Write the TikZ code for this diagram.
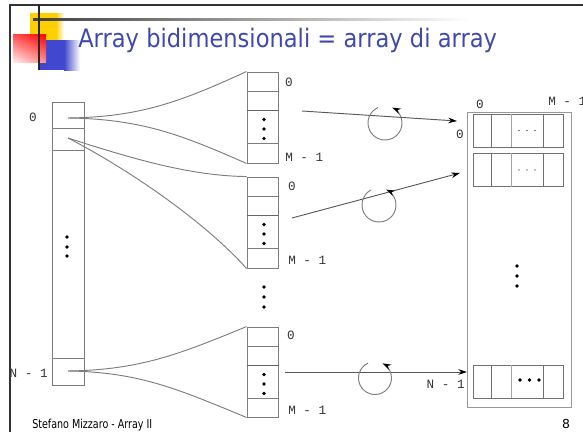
\documentclass[tikz,border=0pt]{standalone}
\usepackage{fontspec}
\usepackage{graphicx}
\newfontfamily\slidefont{DejaVu Sans}
\setmonofont{Liberation Mono}
\usetikzlibrary{arrows.meta,positioning,calc,shadings}

\definecolor{titleblue}{RGB}{64,72,176}
\definecolor{linegray}{RGB}{125,125,125}
\definecolor{logogold}{RGB}{255,208,0}
\definecolor{logoblue}{RGB}{64,72,208}

\tikzset{
  colbox/.style={draw=linegray, line width=0.7pt, minimum width=23.25pt, minimum height=68.25pt, inner sep=0pt},
  rowbox/.style={draw=linegray!90!black, line width=0.7pt, minimum width=67.5pt, minimum height=24.75pt, inner sep=0pt},
  idx/.style={font=\ttfamily\fontsize{9.5}{10}\selectfont, text=black!80, inner sep=0pt},
  fan/.style={linegray, line width=0.7pt},
  ptr/.style={-{Stealth[length=6.5pt, width=4.2pt, color=black]}, black!65, line width=0.7pt},
  rotarr/.style={-{Stealth[length=6.5pt, width=4.2pt, color=black]}, linegray, line width=0.7pt}
}

\begin{document}
\begin{tikzpicture}[x=0.75pt, y=0.75pt]
  \useasboundingbox (0,0) rectangle (583,-432);

  % slide frame and logo
  \draw[black!80, line width=1pt] (10,-432) -- (10,-5) -- (583,-5);
  \fill[logogold] (30,-13) rectangle (56,-40);
  \shade[left color=logogold, right color=white] (56,-13) rectangle (64,-40);
  \fill[logoblue] (38,-40) rectangle (64,-70);
  \shade[left color=logoblue, right color=white] (64,-40) rectangle (80,-70);
  \shade[upper right=red, upper left=red!70, lower right=red!45, lower left=red!8] (13,-34) rectangle (46,-62);
  \shade[left color=black!75, right color=white] (33,-18) rectangle (470,-20.5);
  \draw[black!85, line width=1.2pt] (39,-5) -- (39,-70);

  \node[anchor=base west, inner sep=0pt, text=titleblue] (title) at (78,-47)
    {\resizebox{314pt}{14.5pt}{\slidefont Array bidimensionali = array di array}};
  \node[anchor=base west, inner sep=0pt] (footer) at (32,-428)
    {\resizebox{90pt}{7pt}{\slidefont Stefano Mizzaro - Array II}};
  \node[anchor=base, inner sep=0pt, font=\slidefont\fontsize{9.3}{10}\selectfont] (page) at (566,-428) {8};

  % array of N pointers
  \node[colbox, minimum height=212.25pt, minimum width=24pt] (L) at (68,-243.5) {};
  \draw[linegray, line width=0.7pt] (52,-128) -- (84,-128);
  \draw[linegray, line width=0.7pt] (52,-150) -- (84,-150);
  \draw[linegray, line width=0.7pt] (52,-358) -- (84,-358);
  \coordinate (L0) at (68,-118);
  \coordinate (L1) at (68,-138);
  \coordinate (LN) at (68,-371);
  \node[idx] (l0) at (33,-117) {0};
  \node[idx, anchor=east] (lN) at (48,-373) {N - 1};
  \fill (67,-237) circle[radius=1.9];
  \fill (67,-247) circle[radius=1.9];
  \fill (67,-256) circle[radius=1.9];

  % the rows, M elements each
  \node[colbox] (A1) at (262.5,-117.5) {};
  \node[colbox] (A2) at (262.5,-222.5) {};
  \node[colbox, minimum height=67.5pt] (A3) at (262.5,-372) {};
  \foreach \a in {A1,A2,A3} {
    \draw[linegray, line width=0.7pt] ($(\a.north west)+(0,-19.5)$) -- ($(\a.north east)+(0,-19.5)$);
    \draw[linegray!80!black, line width=0.7pt] ($(\a.north west)+(0,-38.5)$) -- ($(\a.north east)+(0,-38.5)$);
    \draw[linegray, line width=0.7pt] ($(\a.north west)+(0,-71.5)$) -- ($(\a.north east)+(0,-71.5)$);
    \fill ($(\a.north)+(1.5,-48)$) circle[radius=1.9];
    \fill ($(\a.north)+(1.5,-57.5)$) circle[radius=1.9];
    \fill ($(\a.north)+(1.5,-67)$) circle[radius=1.9];
  }
  \node[idx] (a1first) at (289,-82) {0};
  \node[idx, anchor=west] (a1last) at (285,-157) {M - 1};
  \node[idx] (a2first) at (292,-186) {0};
  \node[idx, anchor=west] (a2last) at (288,-260) {M - 1};
  \node[idx] (a3first) at (291,-335) {0};
  \node[idx, anchor=west] (a3last) at (288,-410) {M - 1};
  \fill (264,-287) circle[radius=1.9];
  \fill (264,-297) circle[radius=1.9];
  \fill (264,-307) circle[radius=1.9];

  \draw[fan] (L0) .. controls (140,-117) and (180,-102) .. (A1.north west);
  \draw[fan] (L0) .. controls (140,-119) and (180,-134) .. (A1.south west);
  \draw[fan] (L1) .. controls (130,-158) and (190,-176) .. (A2.north west);
  \draw[fan] (L1) .. controls (130,-170) and (205,-222) .. (A2.south west);
  \draw[fan] (LN) .. controls (140,-370) and (180,-354) .. (A3.north west);
  \draw[fan] (LN) .. controls (140,-372) and (180,-390) .. (A3.south west);

  % the N x M matrix
  \node[draw=linegray!80, line width=0.7pt, minimum width=78pt, minimum height=221.25pt, inner sep=0pt] (M) at (519,-259.5) {};
  \node[rowbox] (M0) at (518,-130.5) {};
  \node[rowbox] (M1) at (518,-170) {};
  \node[rowbox] (MN) at (518,-381.5) {};
  \foreach \r in {M0,M1,MN} {
    \draw[linegray!90!black, line width=0.7pt] ($(\r.north west)+(19,0)$) -- ($(\r.south west)+(19,0)$);
    \draw[linegray!70, line width=0.7pt] ($(\r.north west)+(39,0)$) -- ($(\r.south west)+(39,0)$);
    \draw[linegray!90!black, line width=0.7pt] ($(\r.north west)+(71,0)$) -- ($(\r.south west)+(71,0)$);
  }
  \foreach \r in {M0,M1} {
    \fill ($(\r.center)+(1,0)$) circle[radius=0.7];
    \fill ($(\r.center)+(9,0)$) circle[radius=0.7];
    \fill ($(\r.center)+(17,0)$) circle[radius=0.7];
  }
  \fill (520,-380) circle[radius=1.8];
  \fill (529.5,-380) circle[radius=1.8];
  \fill (539,-380) circle[radius=1.8];
  \fill (517,-266) circle[radius=1.8];
  \fill (517,-276) circle[radius=1.8];
  \fill (517,-286) circle[radius=1.8];
  \node[idx] (m0) at (480,-104) {0};
  \node[idx, anchor=west] (mM) at (548,-101) {M - 1};
  \node[idx] (r0) at (460,-134) {0};
  \node[idx, anchor=east] (rN) at (465,-384) {N - 1};

  % copying the rows
  \coordinate (S1) at (302,-111);
  \coordinate (E1) at (457,-121);
  \coordinate (S2) at (292,-218);
  \coordinate (E2) at (460,-173);
  \coordinate (S3) at (285,-372);
  \coordinate (E3) at (467,-372);
  \coordinate (C1) at (385,-123);
  \coordinate (C2) at (379,-205);
  \coordinate (C3) at (375,-378);
  \draw[ptr] (S1) -- (E1);
  \draw[ptr] (S2) -- (E2);
  \draw[ptr] (S3) -- (E3);
  \draw[rotarr] ($(C1)+(115:17)$) arc[start angle=115, end angle=425, radius=17];
  \draw[rotarr] ($(C2)+(118:17)$) arc[start angle=118, end angle=425, radius=17];
  \draw[rotarr] ($(C3)+(115:16.5)$) arc[start angle=115, end angle=423, radius=16.5];
\end{tikzpicture}
\end{document}
